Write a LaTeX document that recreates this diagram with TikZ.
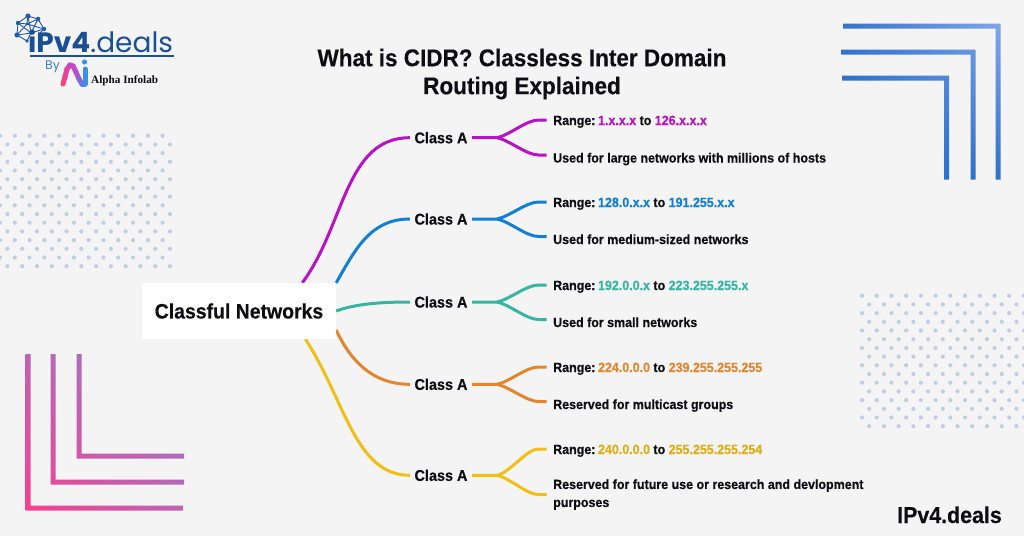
\documentclass[tikz,border=0pt]{standalone}
\usepackage{fontspec}
\setmainfont[FakeStretch=0.93,BoldFeatures={FakeBold=0.35}]{Liberation Sans}
\newfontfamily\logofont{Poppins}
\newfontfamily\serifmark{Liberation Serif}
\usetikzlibrary{calc,shadings}
\definecolor{paper}{HTML}{F4F4F5}
\definecolor{ink}{HTML}{0E0E12}
\definecolor{cpurple}{HTML}{B812C4}
\definecolor{cblue}{HTML}{127FD6}
\definecolor{cteal}{HTML}{37B5A2}
\definecolor{corange}{HTML}{E5852C}
\definecolor{cyellow}{HTML}{F4BF14}
\definecolor{tyellow}{HTML}{DFAE16}
\definecolor{dots}{HTML}{BECFE5}
\definecolor{navy}{HTML}{1B4F95}
\definecolor{sky}{HTML}{3E7FD2}
\definecolor{pinkA}{HTML}{F6408E}
\definecolor{lilacA}{HTML}{8F80D2}
\definecolor{blueA}{HTML}{266BC8}
\definecolor{blueB}{HTML}{80A6EA}
\definecolor{logoP}{HTML}{FA4080}
\definecolor{logoM}{HTML}{C548C8}
\definecolor{logoB}{HTML}{3C90E8}
\newcommand{\txt}[1]{\fontsize{#1}{#1}\selectfont}
\newcommand{\rng}{Range:\hspace{-2pt} }
\tikzset{
  rootbox/.style={fill=white,minimum width=194,minimum height=56,inner sep=0,font=\txt{20.9}\bfseries,text=ink},
  classnode/.style={minimum width=62,inner sep=0,font=\txt{15.5}\bfseries,text=ink},
  rangeleaf/.style={anchor=base west,inner xsep=6.5,inner ysep=0,text height=10,text depth=0,font=\txt{13.4}\bfseries,text=ink},
  useleaf/.style={anchor=base west,inner xsep=6.5,inner ysep=0,text height=15,text depth=0,font=\txt{13.4}\bfseries,text=ink},
  wideleaf/.style={anchor=west,inner xsep=6.5,inner ysep=0,align=left,font=\fontsize{13.4}{18}\selectfont\bfseries,text=ink},
  wire/.style={line width=3},
  dotmark/.style={fill=dots,draw=none},
  netline/.style={draw=navy!80!sky,line width=0.9},
  netdot/.style={fill=navy!70!sky,draw=none}
}
% Trunk from a class node through a fork to its two leaf nodes.
\newcommand{\forkto}[4]{%
  \draw[wire,#1] (#2.east) -- ($(#2.east)+(25,0)$)
    .. controls ($(#2.east)+(38,-3)$) and ($(#3.west)+(-20,0)$) .. ($(#3.west)+(-8,0)$) -- (#3.west);
  \draw[wire,#1] ($(#2.east)+(25,0)$)
    .. controls ($(#2.east)+(38,3)$) and ($(#4.west)+(-20,0)$) .. ($(#4.west)+(-8,0)$) -- (#4.west);
}
\begin{document}
\begin{tikzpicture}[x=1pt,y=-1pt]
\useasboundingbox[fill=paper] (0,0) rectangle (1024,536);

% Dot fields
\foreach \r in {0,...,15}{
  \pgfmathsetmacro{\yy}{135.7+8.7*\r}
  \pgfmathsetmacro{\ox}{mod(\r,2)*7.4}
  \foreach \c in {0,...,11}{
    \fill[dotmark] ({\ox+14.78*\c},\yy) circle (2.1);
  }
  \pgfmathsetmacro{\yz}{295.7+8.7*\r}
  \pgfmathsetmacro{\oz}{862+mod(\r,2)*7.2}
  \foreach \c in {0,...,11}{
    \fill[dotmark] ({\oz+14.72*\c},\yz) circle (2.1);
  }
}

% Nested corner bars, lower left
\begin{scope}
  \clip (25.5,354) rectangle (30.5,510.5) (25.5,505.5) rectangle (183,510.5)
        (50.5,354) rectangle (55.5,484.5) (50.5,479.5) rectangle (184,484.5)
        (76.5,354) rectangle (81.5,458.5) (76.5,453.5) rectangle (184,458.5);
  \shade[lower left=pinkA,upper right=lilacA,upper left=pinkA!45!lilacA,lower right=pinkA!45!lilacA] (25,352) rectangle (185,511);
\end{scope}

% Nested corner bars, upper right
\begin{scope}
  \clip (843,23.5) rectangle (1000.5,28.5) (995.5,23.5) rectangle (1000.5,179.5)
        (841,49.5) rectangle (975.5,54.5) (970.5,49.5) rectangle (975.5,179.5)
        (842,75.5) rectangle (949,80.5) (944,75.5) rectangle (949,179.5);
  \shade[lower left=blueA,upper right=blueB,upper left=blueA!85!blueB,lower right=blueA!90!blueB] (841,23) rectangle (1001,180);
\end{scope}

% Network mark
\foreach \a/\b/\c/\d in {28/16/38/19, 28/16/18/23, 38/19/44/29, 18/23/17/35, 17/35/27/41, 27/41/31/33,
  28/16/31/33, 38/19/31/33, 44/29/31/33, 18/23/31/33, 17/35/31/33, 18/23/27/24, 27/24/38/19, 27/24/44/29, 27/24/17/35, 28/16/27/24, 44/29/38/35}{
  \draw[netline] (\a,\b) -- (\c,\d);
}
\foreach \a/\b/\s in {28/16/2.6, 38/19/2.3, 18/23/2.2, 44/29/2.2, 17/35/2.6, 27/41/1.9, 27/24/1.6}{
  \fill[netdot] (\a,\b) circle (\s);
}
% Wordmark
\node[anchor=base west,inner sep=0,text=navy,font=\logofont\txt{28}] (brand) at (28,52) {\textbf{iPv4}.deals};
\draw[navy,line width=1.1] (30,56) -- (174,56);
\node[anchor=base west,inner sep=0,text=sky,font=\logofont\txt{12.5}] (by) at (45,69.5) {By};
\foreach \i/\a/\b/\c/\d in {0/63/84/65/77, 30/65/77/67/69, 60/67/69/70/65, 90/70/65/73/66}{
  \draw[line width=5,line cap=round,logoM!\i!logoP] (\a,\b) -- (\c,\d);
}
\foreach \i/\a/\b/\c/\d in {0/73/66/76/72, 20/76/72/79/79, 45/79/79/82/84, 70/82/84/85/84, 100/85/84/85/69}{
  \draw[line width=5,line cap=round,logoB!\i!logoM] (\a,\b) -- (\c,\d);
}
\fill[logoB] (84.5,62) circle (2.6);
\node[anchor=base west,inner sep=0,text=ink,font=\serifmark\bfseries\txt{11.2}] (alpha) at (91,83.5) {Alpha Infolab};

% Title
\node[align=center,inner sep=0,text=ink,font=\fontsize{24.2}{28}\selectfont\bfseries] (title) at (522,74) {What is CIDR? Classless Inter Domain\\Routing Explained};

% Root and class nodes
\node[classnode] (c1) at (441,137.7) {Class A};
\node[classnode] (c2) at (441,219) {Class A};
\node[classnode] (c3) at (441,302) {Class A};
\node[classnode] (c4) at (441,384.3) {Class A};
\node[classnode] (c5) at (441,475.3) {Class A};

% Leaves
\node[rangeleaf] (r1) at (546.5,125) {\rng\textcolor{cpurple}{1.x.x.x} to \textcolor{cpurple}{126.x.x.x}};
\node[useleaf] (u1) at (546.5,162.5) {Used for large networks with millions of hosts};
\node[rangeleaf] (r2) at (546.5,207) {\rng\textcolor{cblue}{128.0.x.x} to \textcolor{cblue}{191.255.x.x}};
\node[useleaf] (u2) at (546.5,244) {Used for medium-sized networks};
\node[rangeleaf] (r3) at (546.5,290) {\rng\textcolor{cteal}{192.0.0.x} to \textcolor{cteal}{223.255.255.x}};
\node[useleaf] (u3) at (546.5,327) {Used for small networks};
\node[rangeleaf] (r4) at (546.5,372) {\rng\textcolor{corange}{224.0.0.0} to \textcolor{corange}{239.255.255.255}};
\node[useleaf] (u4) at (546.5,409) {Reserved for multicast groups};
\node[rangeleaf] (r5) at (546.5,454) {\rng\textcolor{tyellow}{240.0.0.0} to \textcolor{tyellow}{255.255.255.254}};
\node[wideleaf] (u5) at (546.5,494.5) {Reserved for future use or research and devlopment\\purposes};

% Connectors from the root are laid first so the white box covers their start
\path[minimum width=194,minimum height=56,inner sep=0] (239,311) node[rectangle] (rootshape) {};
\draw[wire,cpurple] (rootshape.24) .. controls (345,225) and (345,137.7) .. (c1.west);
\draw[wire,cblue] (rootshape.north east) .. controls (355,250) and (370,219) .. (c2.west);
\draw[wire,cteal] (rootshape.east) .. controls (355,304) and (380,302) .. (c3.west);
\draw[wire,corange] (rootshape.-11) .. controls (350,360) and (372,384.3) .. (c4.west);
\draw[wire,cyellow] (rootshape.-23) .. controls (345,400) and (355,475.3) .. (c5.west);
\node[rootbox] (root) at (239,311) {Classful Networks};

\forkto{cpurple}{c1}{r1}{u1}
\forkto{cblue}{c2}{r2}{u2}
\forkto{cteal}{c3}{r3}{u3}
\forkto{corange}{c4}{r4}{u4}
\forkto{cyellow}{c5}{r5}{u5}

% Footer mark
\node[anchor=base east,inner sep=0,text=ink,font=\txt{23}\bfseries] (foot) at (1002,523) {IPv4.deals};
\end{tikzpicture}
\end{document}
